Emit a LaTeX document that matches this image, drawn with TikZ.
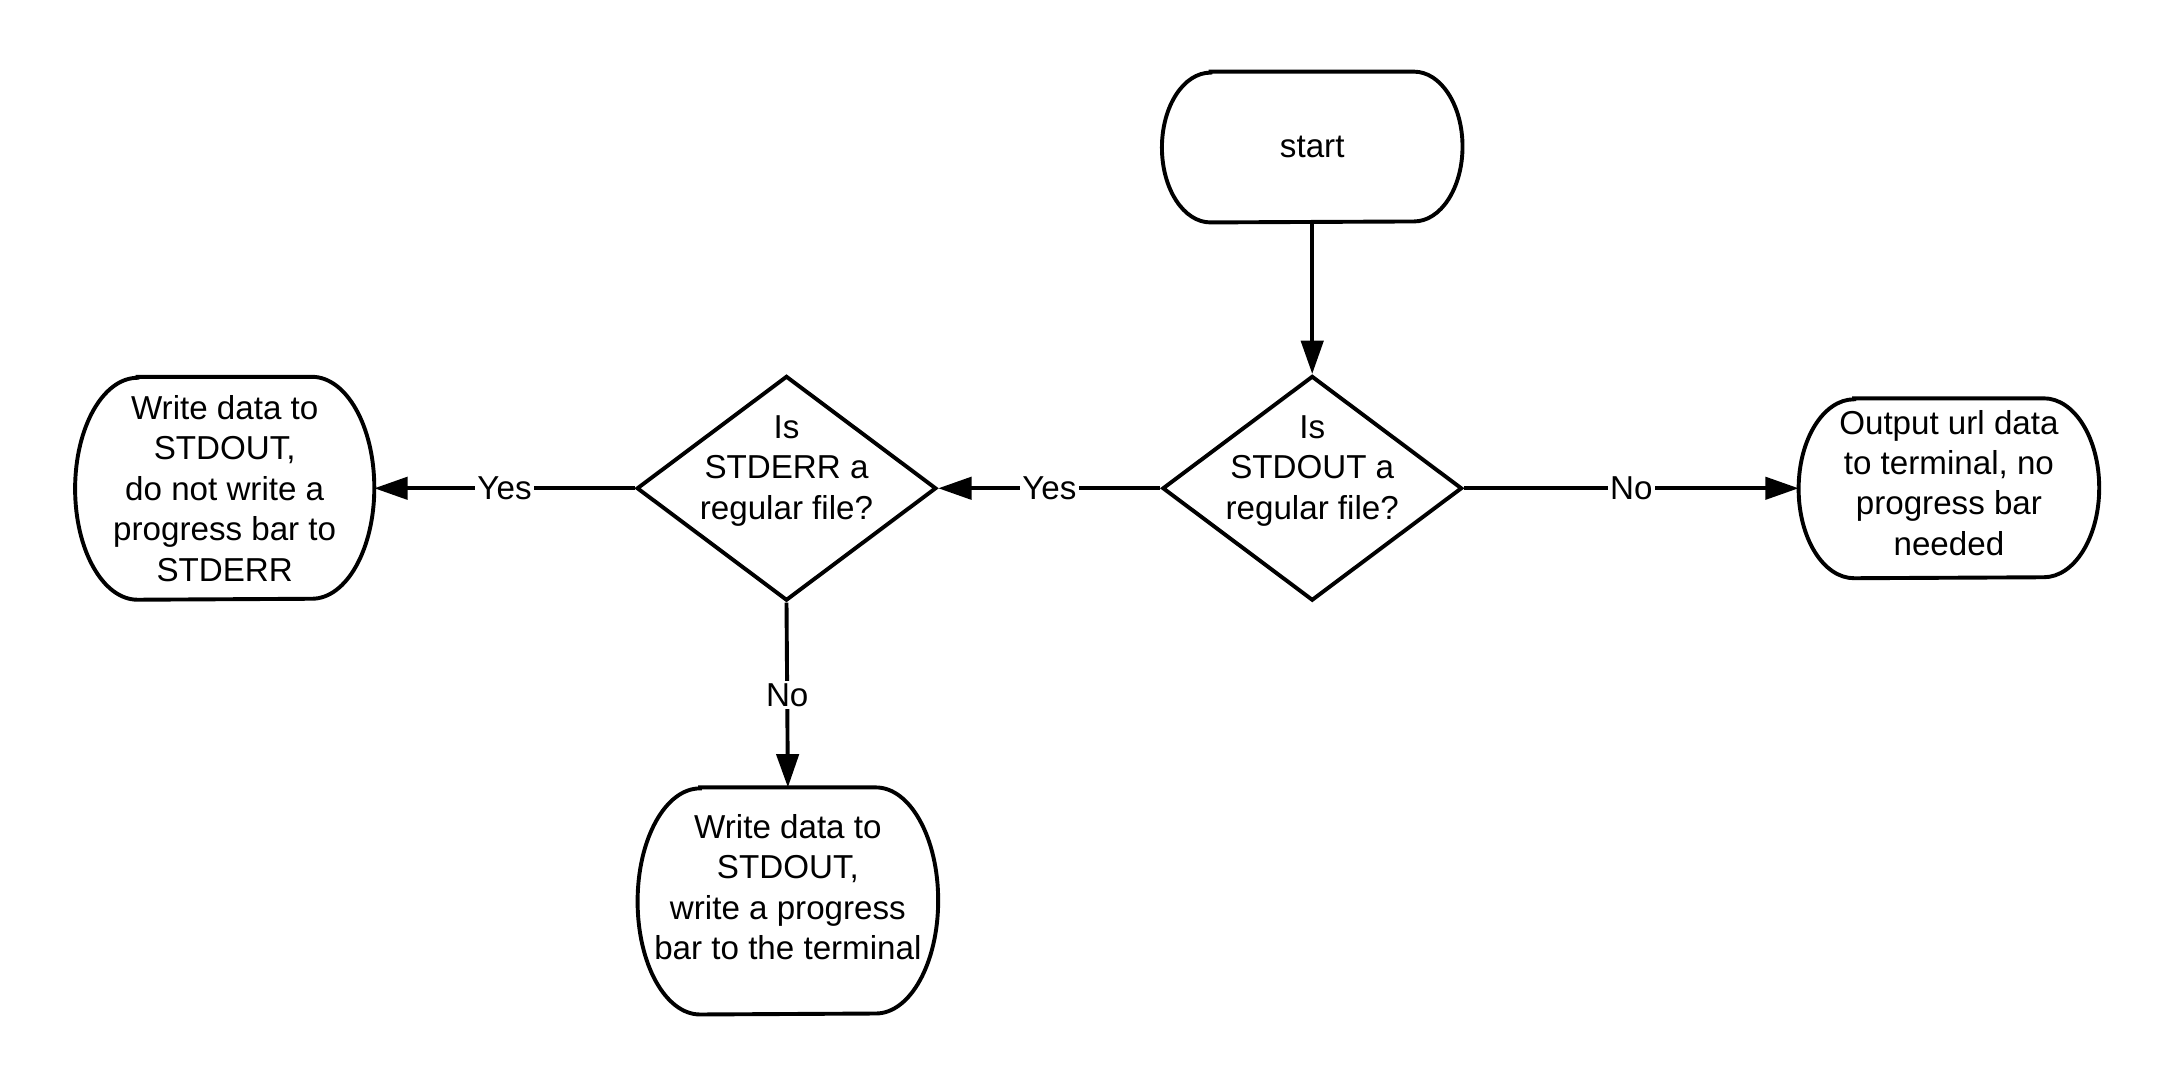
\documentclass[tikz,border=0pt]{standalone}
\usepackage{fontspec}
\setmainfont{Liberation Sans}
\usetikzlibrary{shapes.geometric, arrows.meta, calc}

\tikzset{
    terminal/.style n args={3}{minimum width=#1, minimum height=#2, inner sep=0pt, align=center,
        append after command={\pgfextra{
            \draw[line width=1.6pt] ($(\tikzlastnode.north west)+(#3,0)$) -- ($(\tikzlastnode.north east)+(-#3,0)$)
                arc[start angle=90, end angle=-90, x radius=#3, y radius=#2/2]
                -- ($(\tikzlastnode.south west)+(#3,0)$)
                arc[start angle=270, end angle=90, x radius=#3, y radius=#2/2] -- cycle;}}},
    decision/.style={diamond, draw, line width=1.6pt, minimum width=4.32cm, minimum height=3.24cm, inner sep=0pt},
    flow/.style={-{Triangle[length=0.48cm, width=0.32cm]}, line width=1.6pt},
    answer/.style={midway, fill=white, inner sep=1pt}
}

\begin{document}
\begin{tikzpicture}[font=\fontsize{13.6}{16.6}\selectfont]
    \useasboundingbox (0,0) rectangle (31.36,-15.7);

    \node[terminal={4.32cm}{2.16cm}{0.7cm}] (start) at (18.92,-2.12) {start};
    \node[decision, label={[yshift=0.25cm, align=center]center:Is\\STDOUT a\\regular file?}] (isout) at (18.92,-7.04) {};
    \node[decision, label={[yshift=0.25cm, align=center]center:Is\\STDERR a\\regular file?}] (iserr) at (11.34,-7.04) {};
    \node[terminal={4.30cm}{3.20cm}{0.9cm}] (noBar) at (3.24,-7.04) {Write data to\\STDOUT,\\do not write a\\progress bar to\\STDERR};
    \node[terminal={4.32cm}{2.58cm}{0.8cm}, text depth=0.16cm] (urlOut) at (28.10,-7.04) {Output url data\\to terminal, no\\progress bar\\needed};
    \node[terminal={4.32cm}{3.26cm}{0.9cm}, text depth=0.4cm] (withBar) at (11.36,-12.99) {Write data to\\STDOUT,\\write a progress\\bar to the terminal};

    \draw[flow] (start) -- (isout);
    \draw[flow] (isout.west) -- (iserr.east) node[answer] {Yes};
    \draw[flow] (isout.east) -- (urlOut.west) node[answer] {No};
    \draw[flow] (iserr.west) -- (noBar.east) node[answer] {Yes};
    \draw[flow] (iserr.south) -- (withBar.north) node[answer] {No};

\end{tikzpicture}
\end{document}
